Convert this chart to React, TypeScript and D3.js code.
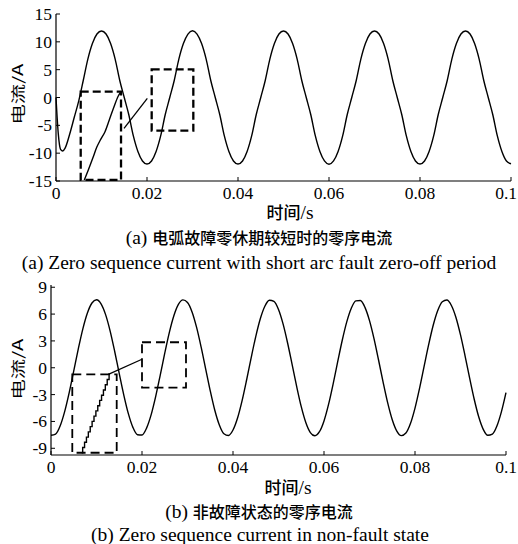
import React from 'react';
import * as d3 from 'd3';

const xTicks = [0, 0.02, 0.04, 0.06, 0.08, 0.1];
const xTickLabels = ['0', '0.02', '0.04', '0.06', '0.08', '0.1'];
const topYTicks = [15, 10, 5, 0, -5, -10, -15];
const botYTicks = [9, 6, 3, 0, -3, -6, -9];

const sampleStep = 0.001;

// (a) arc-fault zero-sequence current: initial transient then steady waveform
const topTransientT = [0, 0.0005, 0.001, 0.0015, 0.002, 0.003, 0.004, 0.005];
const topTransientV = [0, -6.5, -9.3, -9.6, -9.1, -6.6, -3.6, -0.6];
const topSteadyStart = 0.006;
const topSteadyV = [
  3.1, 6.9, 9.7, 11.4, 11.95, 11.4, 9.7, 6.9, 3.1, 0, -3.1, -6.9, -9.7, -11.4, -11.95,
  -11.4, -9.7, -6.9, -3.1, 0, 3.1, 6.9, 9.7, 11.4, 12.0, 11.4, 9.7, 6.9, 3.1, 0, -3.1, -6.9, -9.7, -11.4, -11.95,
  -11.4, -9.7, -6.9, -3.1, 0, 3.1, 6.9, 9.7, 11.4, 11.95, 11.4, 9.7, 6.9, 3.1, 0, -3.1, -6.9, -9.7, -11.4, -12.0,
  -11.4, -9.7, -6.9, -3.1, 0, 3.1, 6.9, 9.7, 11.4, 11.95, 11.4, 9.7, 6.9, 3.1, 0, -3.1, -6.9, -9.7, -11.4, -11.95,
  -11.4, -9.7, -6.9, -3.1, 0, 3.1, 6.9, 9.7, 11.4, 11.95, 11.4, 9.7, 6.9, 3.1, 0, -3.1, -6.9, -9.7, -11.4, -11.9,
];

// magnified zero-off detail drawn inside the left dashed box (a)
const topInsetT = [0.00622, 0.0071, 0.00807, 0.00895, 0.00982, 0.01077, 0.01171, 0.01275, 0.01369, 0.01429];
const topInsetV = [-14.82, -13.02, -10.92, -8.95, -7.51, -6.14, -4.04, -1.65, 0.27, 1.04];

// (b) non-fault zero-sequence current, sampled every 1 ms
const botV = [
  -7.55, -7.42, -6.51, -4.9, -2.77, -0.35, 2.11, 4.35, 6.12, 7.24,
  7.6, 7.15, 5.94, 4.1, 1.82, -0.65, -3.05, -5.13, -6.66, -7.48,
  -7.51, -6.75, -5.27, -3.23, -0.84, 1.63, 3.93, 5.81, 7.08, 7.59,
  7.3, 6.24, 4.51, 2.3, -0.15, -2.58, -4.75, -6.4, -7.38, -7.57,
  -6.96, -5.62, -3.67, -1.34, 1.14, 3.49, 5.48, 6.88, 7.55, 7.42,
  6.51, 4.9, 2.77, 0.35, -2.11, -4.35, -6.12, -7.24, -7.6, -7.15,
  -5.94, -4.1, -1.82, 0.65, 3.05, 5.13, 6.66, 7.48, 7.51, 6.75,
  5.27, 3.23, 0.84, -1.63, -3.93, -5.81, -7.08, -7.59, -7.3, -6.24,
  -4.51, -2.3, 0.15, 2.58, 4.75, 6.4, 7.38, 7.57, 6.96, 5.62,
  3.67, 1.34, -1.14, -3.49, -5.48, -6.88, -7.55, -7.42, -6.51, -4.9,
  -2.77,
];

// quantised staircase inside the left dashed box (b)
const botStairT = [0.00675, 0.00717, 0.00758, 0.008, 0.00841, 0.00883, 0.00924, 0.00966, 0.01007, 0.01049, 0.0109, 0.01132, 0.01173, 0.01215, 0.01256, 0.01298];
const botStairV = [-9.5, -8.92, -8.33, -7.75, -7.16, -6.58, -5.99, -5.41, -4.82, -4.24, -3.65, -3.07, -2.48, -1.9, -1.31, -0.73];

// dashed boxes: [t0, t1, v0, v1]
const topBoxes = [
  [0.00543, 0.01429, -14.8, 1.04],
  [0.02103, 0.03018, -5.96, 5.07],
];
const topConnector = [[0.02007, -0.14], [0.01495, -5.53]];
const botBoxes = [
  [0.00468, 0.01444, -9.5, -0.73],
  [0.02, 0.02967, -2.23, 2.85],
];
const botConnector = [[0.02, 0.95], [0.0126, -0.73]];

const serif = '"Liberation Serif", "Times New Roman", serif';
const cjk = '"Noto Sans CJK SC", "Noto Sans", sans-serif';

type Pt = [number, number];

function Panel(props: {
  x: d3.ScaleLinear<number, number>;
  y: d3.ScaleLinear<number, number>;
  yTicks: number[];
  main: Pt[];
  inset: Pt[];
  insetStep: boolean;
  boxes: number[][];
  connector: number[][];
  dash: string;
  dashWidth: number;
  labelY: number;
}) {
  const { x, y, yTicks, main, inset, insetStep, boxes, connector, dash, dashWidth, labelY } = props;
  const [x0, x1] = x.range();
  const [yb, yt] = y.range();
  const line = d3.line<Pt>().x((d) => x(d[0])).y((d) => y(d[1])).curve(d3.curveMonotoneX);
  const insetLine = d3
    .line<Pt>()
    .x((d) => x(d[0]))
    .y((d) => y(d[1]))
    .curve(insetStep ? d3.curveStep : d3.curveMonotoneX);
  return (
    <g>
      <path d={line(main) || ''} fill="none" stroke="#000" strokeWidth={1.4} />
      <path d={insetLine(inset) || ''} fill="none" stroke="#000" strokeWidth={1.4} />
      {boxes.map((b, i) => (
        <rect
          key={i}
          x={x(b[0])}
          y={y(b[3])}
          width={x(b[1]) - x(b[0])}
          height={y(b[2]) - y(b[3])}
          fill="none"
          stroke="#000"
          strokeWidth={dashWidth}
          strokeDasharray={dash}
        />
      ))}
      <line
        x1={x(connector[0][0])}
        y1={y(connector[0][1])}
        x2={x(connector[1][0])}
        y2={y(connector[1][1])}
        stroke="#000"
        strokeWidth={1.3}
      />
      {/* axes */}
      <line x1={x0} x2={x0} y1={yt} y2={yb} stroke="#000" strokeWidth={1.2} />
      <line x1={x0} x2={x1} y1={yb} y2={yb} stroke="#000" strokeWidth={1.2} />
      {yTicks.map((t) => (
        <g key={'y' + t}>
          <line x1={x0} x2={x0 + 4} y1={y(t)} y2={y(t)} stroke="#000" strokeWidth={1} />
          <text x={x0 - 4} y={y(t) + 6} textAnchor="end" fontFamily={serif} fontSize={17.5}>
            {t}
          </text>
        </g>
      ))}
      {xTicks.map((t, i) => {
        const last = i === xTicks.length - 1;
        return (
          <g key={'x' + t}>
            <line x1={x(t)} x2={x(t)} y1={yb} y2={yb - 4} stroke="#000" strokeWidth={1} />
            <text
              x={last ? 517 : x(t)}
              y={yb + 18}
              textAnchor={last ? 'end' : 'middle'}
              fontFamily={serif}
              fontSize={17.5}
            >
              {xTickLabels[i]}
            </text>
          </g>
        );
      })}
      <text
        transform={`translate(18, ${labelY}) rotate(-90) scale(1.45, 1)`}
        textAnchor="middle"
        fontFamily={cjk}
        fontSize={14}
        dy={5}
      >
        电流/A
      </text>
    </g>
  );
}

export default function App() {
  const topX = d3.scaleLinear().domain([0, 0.1]).range([56, 511]);
  const topY = d3.scaleLinear().domain([-15, 15]).range([181, 14]);
  const botX = d3.scaleLinear().domain([0, 0.1]).range([51, 506]);
  const botY = d3.scaleLinear().domain([-9.75, 9.25]).range([455, 285]);

  const topMain: Pt[] = [
    ...topTransientT.map((t, i) => [t, topTransientV[i]] as Pt),
    ...topSteadyV.map((v, i) => [topSteadyStart + i * sampleStep, v] as Pt),
  ];
  const botMain: Pt[] = botV.map((v, i) => [i * sampleStep, v] as Pt);
  const topInset: Pt[] = topInsetT.map((t, i) => [t, topInsetV[i]] as Pt);
  const botInset: Pt[] = botStairT.map((t, i) => [t, botStairV[i]] as Pt);

  return (
    <svg
      width={518}
      height={544}
      style={{ position: 'absolute', left: 0, top: 0, background: '#fff' }}
    >
      <rect x={0} y={0} width={518} height={544} fill="#fff" />
      <Panel
        x={topX}
        y={topY}
        yTicks={topYTicks}
        main={topMain}
        inset={topInset}
        insetStep={false}
        boxes={topBoxes}
        connector={topConnector}
        dash="8,4"
        dashWidth={2.3}
        labelY={94}
      />
      <Panel
        x={botX}
        y={botY}
        yTicks={botYTicks}
        main={botMain}
        inset={botInset}
        insetStep={true}
        boxes={botBoxes}
        connector={botConnector}
        dash="9,5"
        dashWidth={1.8}
        labelY={369}
      />
      <text x={290} y={219} textAnchor="middle">
        <tspan fontFamily={cjk} fontWeight={500} fontSize={17}>时间</tspan>
        <tspan fontFamily={serif} fontSize={19.5}>/s</tspan>
      </text>
      <text x={259} y={244} textAnchor="middle">
        <tspan fontFamily={serif} fontSize={19.5}>(a) </tspan>
        <tspan fontFamily={cjk} fontWeight={500} fontSize={16}>电弧故障零休期较短时的零序电流</tspan>
      </text>
      <text x={259} y={269} textAnchor="middle" fontSize={19.5} fontFamily={serif}>
        (a) Zero sequence current with short arc fault zero-off period
      </text>
      <text x={288} y={494} textAnchor="middle">
        <tspan fontFamily={cjk} fontWeight={500} fontSize={17}>时间</tspan>
        <tspan fontFamily={serif} fontSize={19.5}>/s</tspan>
      </text>
      <text x={259} y={518} textAnchor="middle">
        <tspan fontFamily={serif} fontSize={19.5}>(b) </tspan>
        <tspan fontFamily={cjk} fontWeight={500} fontSize={16}>非故障状态的零序电流</tspan>
      </text>
      <text x={260} y={541} textAnchor="middle" fontSize={19.5} fontFamily={serif}>
        (b) Zero sequence current in non-fault state
      </text>
    </svg>
  );
}
